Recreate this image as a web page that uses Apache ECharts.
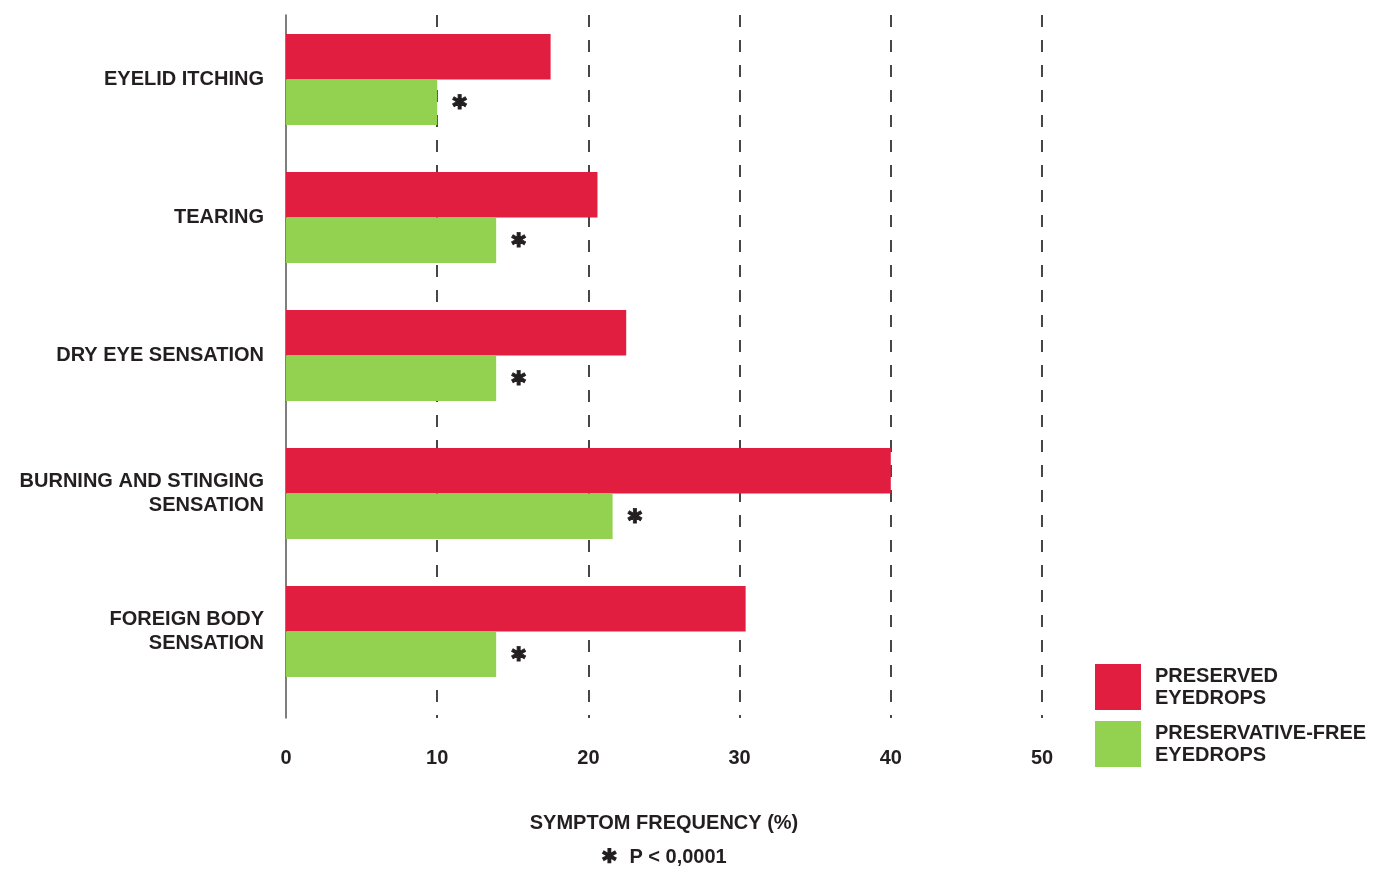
<!DOCTYPE html>
<html>
<head>
<meta charset="utf-8">
<script src="https://cdn.jsdelivr.net/npm/echarts@6/dist/echarts.min.js"></script>
<style>
  html, body { margin: 0; padding: 0; background: #fff; }
  #chart { width: 1383px; height: 870px; }
</style>
</head>
<body>
<div id="chart"></div>
<script>
const categories = ['EYELID ITCHING', 'TEARING', 'DRY EYE SENSATION', 'BURNING AND STINGING\nSENSATION', 'FOREIGN BODY\nSENSATION'];
const preserved = [17.5, 20.6, 22.5, 40.0, 30.4];
const preservativeFree = [10.0, 13.9, 13.9, 21.6, 13.9];
const seriesNames = ['PRESERVED EYEDROPS', 'PRESERVATIVE-FREE EYEDROPS'];
const xTicks = [0, 10, 20, 30, 40, 50];
const axisTitle = 'SYMPTOM FREQUENCY (%)';
const footnote = '\u2731  P < 0,0001';
const sigMark = '\u2731';

const FONT = '"Liberation Sans", Arial, Helvetica, sans-serif';
const TXT = '#231f20';
const RED = '#e11d40';
const GREEN = '#93d251';
const FS = 20;

const chart = echarts.init(document.getElementById('chart'), null, { renderer: 'canvas' });
chart.setOption({
  animation: false,
  backgroundColor: '#ffffff',
  textStyle: { fontFamily: FONT },
  grid: [
    { left: 286, right: 341, top: 15, bottom: 152, containLabel: false },
    { left: 286, right: 341, top: 10.5, bottom: 169.5, containLabel: false }
  ],
  legend: {
    orient: 'vertical',
    left: 1095,
    top: 664,
    padding: 0,
    itemWidth: 46,
    itemHeight: 46,
    itemGap: 11,
    icon: 'rect',
    data: seriesNames,
    formatter: n => n.replace(' EYEDROPS', '\nEYEDROPS'),
    textStyle: { color: TXT, fontFamily: FONT, fontWeight: 'bold', fontSize: FS, lineHeight: 22, padding: [1, 0, 0, 9] }
  },
  xAxis: [
    {
      gridIndex: 0, type: 'value', min: xTicks[0], max: xTicks[xTicks.length - 1], interval: 10,
      axisLine: { show: false }, axisTick: { show: false },
      axisLabel: { color: TXT, fontFamily: FONT, fontWeight: 'bold', fontSize: FS, margin: 30 },
      splitLine: { show: true, showMinLine: false, lineStyle: { color: '#1a1a1a', width: 1.6, type: [12, 13] } }
    },
    {
      gridIndex: 1, type: 'value', min: xTicks[0], max: xTicks[xTicks.length - 1], interval: 10,
      show: false
    }
  ],
  yAxis: [
    {
      gridIndex: 0, type: 'value', min: 0, max: 1,
      axisLine: { show: true, lineStyle: { color: '#555', width: 1.5 } },
      axisTick: { show: false }, axisLabel: { show: false }, splitLine: { show: false }
    },
    {
      gridIndex: 1, type: 'category', inverse: true, data: categories,
      axisLine: { show: false }, axisTick: { show: false },
      axisLabel: { color: TXT, fontFamily: FONT, fontWeight: 'bold', fontSize: FS, lineHeight: 24, margin: 22, align: 'right' },
      splitLine: { show: false }
    }
  ],
  series: [
    {
      name: seriesNames[0], type: 'bar', xAxisIndex: 1, yAxisIndex: 1,
      data: preserved, barWidth: 45.5, barGap: '0%',
      itemStyle: { color: RED }
    },
    {
      name: seriesNames[1], type: 'bar', xAxisIndex: 1, yAxisIndex: 1,
      data: preservativeFree, barWidth: 45.5, barGap: '0%',
      itemStyle: { color: GREEN },
      label: { show: true, position: 'right', distance: 14, offset: [0, 2], formatter: sigMark, color: TXT, fontSize: 20, fontWeight: 'bold', fontFamily: '"DejaVu Sans", sans-serif', textBorderColor: TXT, textBorderWidth: 0.8 }
    }
  ],
  graphic: [
    { type: 'text', x: 664, y: 823, style: { text: axisTitle, align: 'center', verticalAlign: 'middle', font: 'bold ' + FS + 'px ' + FONT, fill: TXT } },
    { type: 'text', x: 664, y: 857, style: { text: footnote, align: 'center', verticalAlign: 'middle', font: 'bold ' + FS + 'px ' + FONT, fill: TXT } }
  ]
});
</script>
</body>
</html>
